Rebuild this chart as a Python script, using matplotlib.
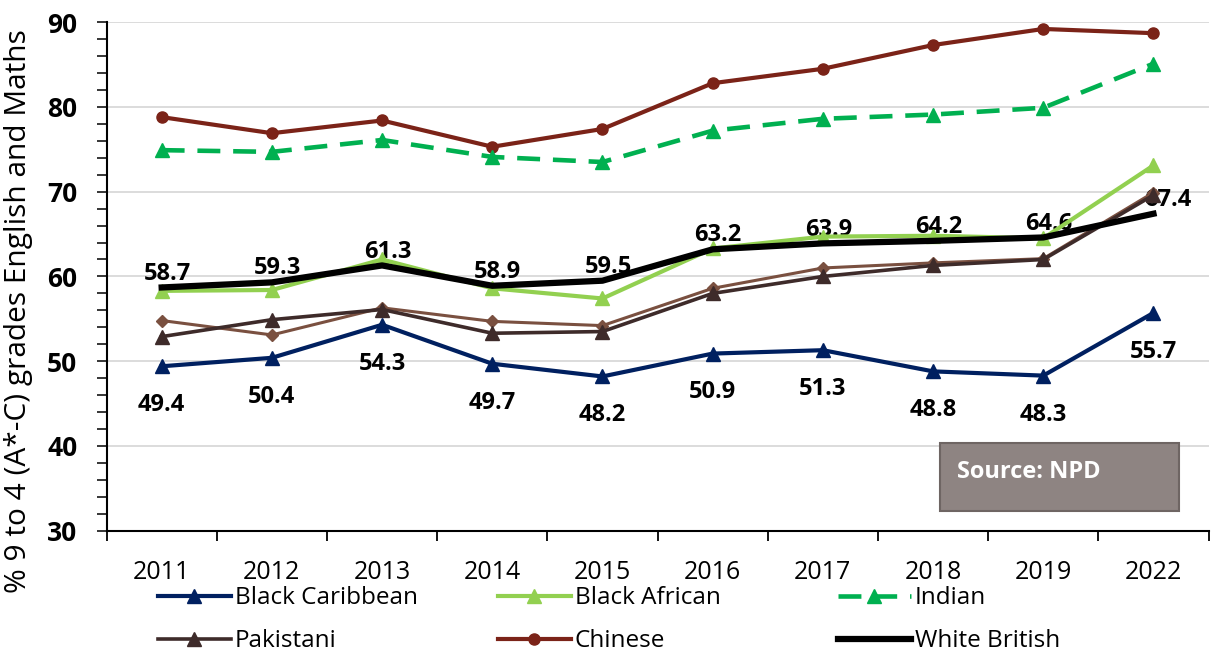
import numpy as np
import matplotlib
matplotlib.use("Agg")
import matplotlib.pyplot as plt
from matplotlib.ticker import MultipleLocator, FixedLocator, NullFormatter
from matplotlib.patches import Rectangle

plt.rcParams['font.family'] = ['Open Sans', 'DejaVu Sans']

# -----------------------------
# Data: % achieving grades 9 to 4 (A*-C) in English and Maths
# -----------------------------
years = ["2011", "2012", "2013", "2014", "2015", "2016", "2017", "2018", "2019", "2022"]

black_caribbean = [49.4, 50.4, 54.3, 49.7, 48.2, 50.9, 51.3, 48.8, 48.3, 55.7]
black_african = [58.3, 58.4, 62.0, 58.6, 57.4, 63.3, 64.7, 64.8, 64.5, 73.1]
indian = [74.9, 74.7, 76.1, 74.1, 73.5, 77.2, 78.6, 79.1, 79.9, 85.1]
pakistani = [52.9, 54.9, 56.1, 53.3, 53.5, 58.0, 60.0, 61.3, 62.0, 69.6]
bangladeshi = [54.8, 53.1, 56.3, 54.7, 54.2, 58.6, 61.0, 61.6, 62.1, 69.9]
chinese = [78.8, 76.9, 78.4, 75.3, 77.4, 82.8, 84.5, 87.3, 89.2, 88.7]
white_british = [58.7, 59.3, 61.3, 58.9, 59.5, 63.2, 63.9, 64.2, 64.6, 67.4]

x = np.arange(len(years))

fig = plt.figure(figsize=(12.11, 6.52), dpi=100)
ax = fig.add_axes([0.088, 0.186, 0.910, 0.780])

# data labels sit underneath the lines
for i, v in enumerate(white_british):
    dx = 10 if i == len(years) - 1 else 4
    ax.annotate(f"{v:.1f}", (x[i], v), xytext=(dx, 10), textcoords="offset points",
                ha="center", va="center", fontsize=17, fontweight="bold", zorder=1.5)
for i, v in enumerate(black_caribbean):
    ax.annotate(f"{v:.1f}", (x[i], v), xytext=(0, -28), textcoords="offset points",
                ha="center", va="center", fontsize=17, fontweight="bold", zorder=1.5)

ax.plot(x, chinese, color="#7B2318", lw=3, marker="o", ms=8, label="Chinese", zorder=3)
ax.plot(x, indian, color="#00B050", lw=3.3, ls=(0, (5, 2.8)), marker="^", ms=10,
        label="Indian", zorder=3)
ax.plot(x, bangladeshi, color="#7A5040", lw=2.2, marker="D", ms=6.5, zorder=3)
ax.plot(x, pakistani, color="#3E2B2A", lw=2.6, marker="^", ms=10, label="Pakistani", zorder=3)
ax.plot(x, black_caribbean, color="#002060", lw=3, marker="^", ms=10,
        label="Black Caribbean", zorder=3)
ax.plot(x, black_african, color="#92D050", lw=3, marker="^", ms=10,
        label="Black African", zorder=3.5)
ax.plot(x, white_british, color="black", lw=4.5, label="White British", zorder=4)

ax.set_xlim(-0.5, len(years) - 0.5)
ax.set_ylim(30, 90)
ax.yaxis.set_major_locator(MultipleLocator(10))
ax.yaxis.set_minor_locator(MultipleLocator(2))
ax.grid(axis="y", which="major", color="#D9D9D9", lw=1.3, zorder=0)
ax.set_axisbelow(True)

ax.set_xticks(x)
ax.set_xticklabels(years, fontsize=18)
ax.xaxis.set_minor_locator(FixedLocator(np.arange(-0.5, len(years), 1.0)))
ax.xaxis.set_minor_formatter(NullFormatter())
ax.tick_params(axis="x", which="major", length=0, pad=21)
ax.tick_params(axis="x", which="minor", length=7, width=1.3, direction="out")
ax.tick_params(axis="y", which="both", length=7, width=1.1, direction="out", pad=14)
for lbl in ax.get_yticklabels():
    lbl.set_fontsize(19)
    lbl.set_fontweight("bold")

for side in ["top", "right"]:
    ax.spines[side].set_visible(False)
for side in ["left", "bottom"]:
    ax.spines[side].set_linewidth(1.5)

ax.set_ylabel("% 9 to 4 (A*-C) grades English and Maths", fontsize=21.5)
ax.yaxis.set_label_coords(-0.067, 0.432)

# source box
ax.add_patch(Rectangle((7.06, 32.3), 2.17, 8.1, facecolor="#8E8482", edgecolor="#6E6563",
                       lw=1.5, zorder=5))
ax.text(7.22, 36.9, "Source: NPD", color="white", fontsize=17, fontweight="bold",
        ha="left", va="center", zorder=6)

# legend: three columns of two rows each
handles, labels = ax.get_legend_handles_labels()
hmap = dict(zip(labels, handles))
columns = [("Black Caribbean", "Pakistani"),
           ("Black African", "Chinese"),
           ("Indian", "White British")]
col_x = [0.1305, 0.4112, 0.6920]
for cx, names in zip(col_x, columns):
    fig.legend([hmap[k] for k in names], list(names), loc="upper left",
               bbox_to_anchor=(cx, 0.1005), frameon=False, fontsize=17.5,
               handlelength=3.0, handletextpad=0.15, labelspacing=0.77,
               borderpad=0, borderaxespad=0)

fig.savefig("out.png", dpi=100)
